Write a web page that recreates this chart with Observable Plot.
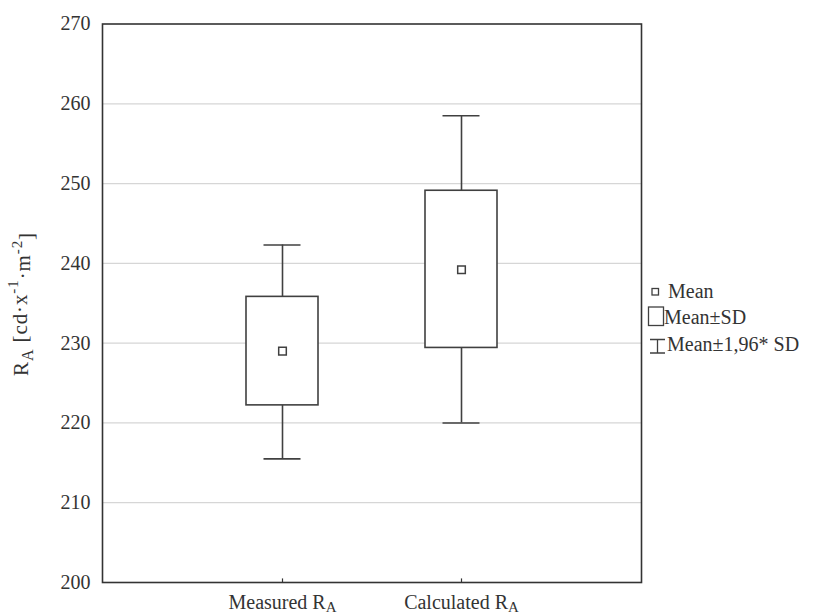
<!DOCTYPE html>
<html><head><meta charset="utf-8">
<script src="https://cdn.jsdelivr.net/npm/d3@7"></script>
<script src="https://cdn.jsdelivr.net/npm/@observablehq/plot@0.6"></script>
<style>body{margin:0;background:#fff;} #chart{width:813px;height:616px;overflow:hidden;}
.serif, .serif text, .serif tspan { font-family: "Liberation Serif", "Times New Roman", serif !important; }</style>
</head><body><div id="chart"></div>
<script>
// ---- data ----
const groups = ["Measured", "Calculated"];
const means  = [229.0, 239.2];
const sdLow  = [222.2, 229.4];
const sdHigh = [235.8, 249.1];
const ciLow  = [215.5, 220.0];
const ciHigh = [242.3, 258.5];
const yTicks = [200, 210, 220, 230, 240, 250, 260, 270];
const gridTicks = [210, 220, 230, 240, 250, 260];
const legendLabels = ["Mean", "Mean±SD", "Mean±1,96* SD"];

const data = groups.map((g, i) => ({group: g, mean: means[i], lo: sdLow[i], hi: sdHigh[i], wlo: ciLow[i], whi: ciHigh[i]}));
const font = "Liberation Serif, Times New Roman, serif";
const ink = "#404040";

const svg = Plot.plot({
  width: 813, height: 616,
  marginLeft: 102, marginRight: 172, marginTop: 23.5, marginBottom: 34,
  style: {fontFamily: font, fontSize: "20px", color: "#333", background: "#fff", overflow: "visible"},
  x: {type: "band", domain: groups, paddingInner: 0.6, paddingOuter: 0.8, label: null},
  y: {domain: [200, 270], label: null},
  marks: [
    Plot.gridY(gridTicks, {stroke: "#d6d6d6", strokeOpacity: 1, strokeWidth: 1.2}),
    Plot.ruleX(data, {x: "group", y1: "wlo", y2: "lo", stroke: ink, strokeWidth: 1.6}),
    Plot.ruleX(data, {x: "group", y1: "hi", y2: "whi", stroke: ink, strokeWidth: 1.6}),
    Plot.tickY(data, {x: "group", y: "wlo", stroke: ink, strokeWidth: 1.6, insetLeft: 17.5, insetRight: 17.5}),
    Plot.tickY(data, {x: "group", y: "whi", stroke: ink, strokeWidth: 1.6, insetLeft: 17.5, insetRight: 17.5}),
    Plot.barY(data, {x: "group", y1: "lo", y2: "hi", fill: "#fff", stroke: ink, strokeWidth: 1.6}),
    Plot.dot(data, {x: "group", y: "mean", symbol: "square", r: 4.3, fill: "#fff", stroke: ink, strokeWidth: 1.5}),
    Plot.ruleX(groups, {x: d => d, y1: 200, y2: 200.45, stroke: "#333", strokeWidth: 1.2}),
    Plot.frame({stroke: "#333", strokeWidth: 1.6}),
    Plot.axisY(yTicks, {tickSize: 0, tickPadding: 12, fontSize: 20}),
    Plot.axisX({tickSize: 0, tickPadding: 12, fontSize: 20, tickFormat: d => d + " R"})
  ]
});
document.getElementById("chart").appendChild(svg);

const s = d3.select(svg);
// subscript A on x tick labels
s.selectAll('g[aria-label="x-axis tick label"] text').each(function() {
  d3.select(this).append("tspan").attr("dy", "0.22em").attr("font-size", "15px").text("A");
});

// y-axis title
const yt = s.append("text")
  .attr("class", "serif")
  .attr("transform", "translate(28,304) rotate(-90)")
  .attr("text-anchor", "middle")
  .style("letter-spacing", "0.9px")
  .style("font-size", "21px").attr("fill", "#333");
yt.append("tspan").text("R");
yt.append("tspan").style("font-size", "16px").attr("dy", "0.3em").text("A");
yt.append("tspan").attr("dy", "-0.3em").text(" [cd·x");
yt.append("tspan").style("font-size", "15px").attr("dy", "-0.55em").text("-1");
yt.append("tspan").attr("dy", "0.55em").text("·m");
yt.append("tspan").style("font-size", "15px").attr("dy", "-0.55em").text("-2");
yt.append("tspan").attr("dy", "0.55em").text("]");

// legend
const lg = s.append("g").attr("class", "serif").style("font-size", "20px").attr("fill", "#333").attr("text-anchor", "start");
lg.append("rect").attr("x", 652).attr("y", 288.5).attr("width", 6.5).attr("height", 6.5)
  .attr("fill", "#fff").attr("stroke", ink).attr("stroke-width", 1.3);
lg.append("text").attr("x", 668).attr("y", 297.5).attr("text-anchor", "start").text(legendLabels[0]);
lg.append("rect").attr("x", 648.5).attr("y", 307).attr("width", 15).attr("height", 18.5)
  .attr("fill", "#fff").attr("stroke", ink).attr("stroke-width", 1.3);
lg.append("text").attr("x", 664).attr("y", 324).attr("text-anchor", "start").text(legendLabels[1]);
lg.append("path").attr("d", "M650,339.5H665M657.5,339.5V353M650,353H665")
  .attr("fill", "none").attr("stroke", ink).attr("stroke-width", 1.3);
lg.append("text").attr("x", 667).attr("y", 351).attr("text-anchor", "start").text(legendLabels[2]);
</script>
</body></html>
